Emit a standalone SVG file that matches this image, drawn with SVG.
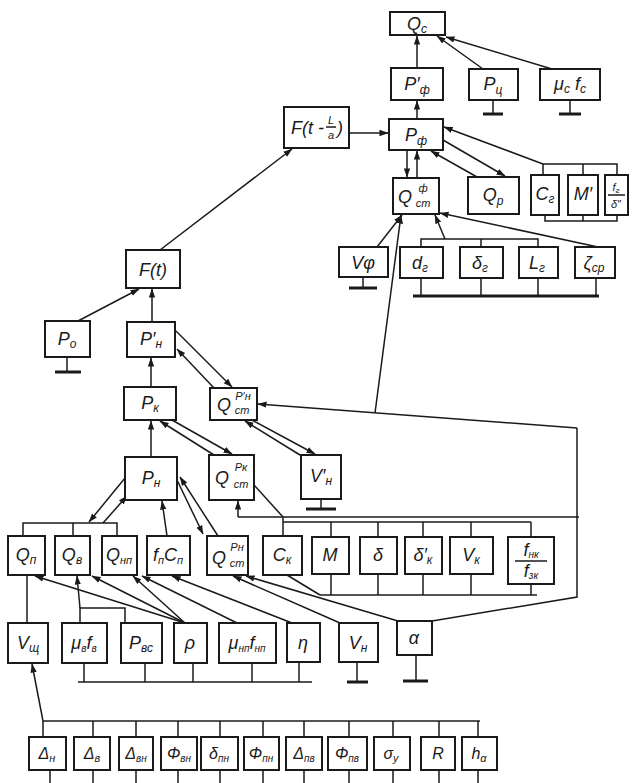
<svg xmlns="http://www.w3.org/2000/svg" width="633" height="783" viewBox="0 0 633 783">
<style>
.b{fill:#fff;stroke:#1a1a1a;stroke-width:2}
.l{fill:none;stroke:#1a1a1a;stroke-width:1.5}
.g{fill:none;stroke:#1a1a1a;stroke-width:3}
.t{font-family:"Liberation Sans","DejaVu Sans",sans-serif;font-style:italic;font-size:18px;fill:#1a1a1a;text-anchor:middle}
.st{font-family:"Liberation Sans","DejaVu Sans",sans-serif;font-style:italic;font-size:11px;fill:#1a1a1a;text-anchor:middle}
.bt{font-size:16px}
</style>
<defs>
<marker id="a" viewBox="0 0 10 10" refX="9.5" refY="5" markerWidth="9" markerHeight="9" orient="auto" markerUnits="userSpaceOnUse"><path d="M0,1.5 L10,5 L0,8.5 z" fill="#1a1a1a"/></marker>
</defs>
<rect width="633" height="783" fill="#fff"/>

<g id="connectors">
<line class="l" x1="417" y1="68" x2="417" y2="36" marker-end="url(#a)"/>
<line class="l" x1="417" y1="119" x2="417" y2="101" marker-end="url(#a)"/>
<line class="l" x1="483" y1="69" x2="437" y2="36" marker-end="url(#a)"/>
<line class="l" x1="552" y1="69" x2="446" y2="37" marker-end="url(#a)"/>
<line class="l" x1="349" y1="133" x2="388" y2="133" marker-end="url(#a)"/>
<line class="l" x1="160" y1="250" x2="292" y2="149" marker-end="url(#a)"/>
<line class="l" x1="543" y1="164" x2="444" y2="127" marker-end="url(#a)"/>
<line class="l" x1="443" y1="140" x2="505" y2="176" marker-end="url(#a)"/>
<line class="l" x1="477" y1="177" x2="431" y2="151" marker-end="url(#a)"/>
<line class="l" x1="407" y1="150" x2="407" y2="177" marker-end="url(#a)"/>
<line class="l" x1="417" y1="178" x2="417" y2="151" marker-end="url(#a)"/>
<line class="l" x1="377" y1="247" x2="402" y2="215" marker-end="url(#a)"/>
<line class="l" x1="445" y1="239" x2="435" y2="215" marker-end="url(#a)"/>
<line class="l" x1="598" y1="247" x2="440" y2="213" marker-end="url(#a)"/>
<polyline class="l" points="543,175 543,164 617,164 617,175"/>
<line class="l" x1="583" y1="164" x2="583" y2="175"/>
<polyline class="l" points="545,215 545,221 617,221 617,215"/>
<line class="l" x1="583" y1="215" x2="583" y2="221"/>
<polyline class="l" points="421,247 421,239 538,239 538,247"/>
<line class="l" x1="481" y1="239" x2="481" y2="247"/>
<line class="g" x1="413" y1="296" x2="599" y2="296"/>
<line class="l" x1="421" y1="278" x2="421" y2="296"/>
<line class="l" x1="481" y1="278" x2="481" y2="296"/>
<line class="l" x1="538" y1="278" x2="538" y2="296"/>
<line class="l" x1="596" y1="278" x2="596" y2="296"/>
<line class="l" x1="363" y1="277" x2="363" y2="287"/>
<line class="g" x1="349" y1="288" x2="377" y2="288"/>
<line class="l" x1="493" y1="100" x2="493" y2="113"/>
<line class="g" x1="483" y1="114" x2="503" y2="114"/>
<line class="l" x1="570" y1="100" x2="570" y2="113"/>
<line class="g" x1="559" y1="114" x2="581" y2="114"/>

<line class="l" x1="375" y1="413" x2="401" y2="215" marker-end="url(#a)"/>
<line class="l" x1="577" y1="428" x2="258" y2="404" marker-end="url(#a)"/>
<polyline class="l" points="577,428 577,597 432,621"/>
<line class="l" x1="238" y1="517" x2="579" y2="517"/>
<line class="l" x1="238" y1="517" x2="238" y2="501" marker-end="url(#a)"/>
<line class="l" x1="254" y1="485" x2="283" y2="517"/>
<line class="l" x1="283" y1="517" x2="283" y2="536"/>
<line class="l" x1="283" y1="522" x2="531" y2="522"/>
<line class="l" x1="331" y1="522" x2="331" y2="537"/>
<line class="l" x1="378" y1="522" x2="378" y2="537"/>
<line class="l" x1="423" y1="522" x2="423" y2="537"/>
<line class="l" x1="471" y1="522" x2="471" y2="537"/>
<line class="l" x1="531" y1="522" x2="531" y2="537"/>
<line class="l" x1="320" y1="595" x2="537" y2="595"/>
<line class="l" x1="287" y1="575" x2="320" y2="595"/>
<line class="l" x1="331" y1="574" x2="331" y2="595"/>
<line class="l" x1="378" y1="574" x2="378" y2="595"/>
<line class="l" x1="423" y1="574" x2="423" y2="595"/>
<line class="l" x1="471" y1="574" x2="471" y2="595"/>
<line class="l" x1="531" y1="584" x2="531" y2="595"/>

<line class="l" x1="78" y1="321" x2="139" y2="289" marker-end="url(#a)"/>
<line class="l" x1="152" y1="322" x2="152" y2="289" marker-end="url(#a)"/>
<line class="l" x1="67" y1="357" x2="67" y2="371"/>
<line class="g" x1="55" y1="372" x2="81" y2="372"/>
<line class="l" x1="151" y1="387" x2="151" y2="358" marker-end="url(#a)"/>
<line class="l" x1="151" y1="457" x2="151" y2="421" marker-end="url(#a)"/>
<line class="l" x1="176" y1="331" x2="232" y2="387" marker-end="url(#a)"/>
<line class="l" x1="214" y1="388" x2="177" y2="349" marker-end="url(#a)"/>
<line class="l" x1="172" y1="420" x2="232" y2="454" marker-end="url(#a)"/>
<line class="l" x1="214" y1="455" x2="160" y2="421" marker-end="url(#a)"/>
<line class="l" x1="252" y1="420" x2="315" y2="454" marker-end="url(#a)"/>
<line class="l" x1="300" y1="455" x2="245" y2="421" marker-end="url(#a)"/>
<line class="l" x1="321" y1="499" x2="321" y2="508"/>
<line class="g" x1="306" y1="509" x2="336" y2="509"/>

<line class="l" x1="125" y1="478" x2="89" y2="522" marker-end="url(#a)"/>
<line class="l" x1="103" y1="523" x2="127" y2="496" marker-end="url(#a)"/>
<polyline class="l" points="23,536 23,523 117,523 117,536"/>
<line class="l" x1="73" y1="523" x2="73" y2="536"/>
<line class="l" x1="167" y1="536" x2="162" y2="501" marker-end="url(#a)"/>
<line class="l" x1="177" y1="480" x2="203" y2="534" marker-end="url(#a)"/>
<line class="l" x1="218" y1="536" x2="180" y2="477" marker-end="url(#a)"/>

<line class="l" x1="27" y1="575" x2="27" y2="623"/>
<line class="l" x1="43" y1="721" x2="32" y2="664" marker-end="url(#a)"/>
<polyline class="l" points="80,623 80,608 125,608 125,623"/>
<line class="l" x1="80" y1="608" x2="77" y2="576" marker-end="url(#a)"/>
<line class="l" x1="185" y1="623" x2="35" y2="576" marker-end="url(#a)"/>
<line class="l" x1="185" y1="623" x2="92" y2="576" marker-end="url(#a)"/>
<line class="l" x1="185" y1="623" x2="133" y2="576" marker-end="url(#a)"/>
<line class="l" x1="237" y1="623" x2="142" y2="576" marker-end="url(#a)"/>
<line class="l" x1="292" y1="623" x2="172" y2="576" marker-end="url(#a)"/>
<line class="l" x1="340" y1="623" x2="233" y2="576" marker-end="url(#a)"/>
<line class="l" x1="398" y1="621" x2="246" y2="576" marker-end="url(#a)"/>
<line class="l" x1="78" y1="682" x2="312" y2="682"/>
<line class="l" x1="84" y1="663" x2="84" y2="682"/>
<line class="l" x1="145" y1="663" x2="145" y2="682"/>
<line class="l" x1="193" y1="663" x2="193" y2="682"/>
<line class="l" x1="252" y1="663" x2="252" y2="682"/>
<line class="l" x1="299" y1="662" x2="299" y2="682"/>
<line class="l" x1="357" y1="662" x2="357" y2="681"/>
<line class="g" x1="347" y1="682" x2="368" y2="682"/>
<line class="l" x1="416" y1="655" x2="416" y2="680"/>
<line class="g" x1="403" y1="681" x2="428" y2="681"/>

<line class="l" x1="43" y1="721" x2="480" y2="721"/>
<g class="l">
<path d="M43,721V737M93,721V737M136,721V737M178,721V737M220,721V737M263,721V737M304,721V737M349,721V737M393,721V737M439,721V737M478,721V737"/>
<path d="M50,770V783M93,770V783M136,770V783M178,770V783M220,770V783M263,770V783M304,770V783M349,770V783M393,770V783M439,770V783M478,770V783"/>
</g>
</g>

<g id="Qc"><rect class="b" x="390" y="12" width="55" height="23"/><text class="t" x="417" y="30">Q<tspan font-size="12" dy="3">c</tspan></text></g>
<g id="Pf1"><rect class="b" x="391" y="68" width="52" height="32"/><text class="t" x="417" y="90">P′<tspan font-size="12" dy="4">ф</tspan></text></g>
<g id="Pc"><rect class="b" x="469" y="69" width="49" height="31"/><text class="t" x="493" y="90">P<tspan font-size="12" dy="4">ц</tspan></text></g>
<g id="Mcfc"><rect class="b" x="540" y="69" width="60" height="31"/><text class="t" x="570" y="90">μ<tspan font-size="12" dy="3">c</tspan><tspan dy="-3"> f</tspan><tspan font-size="12" dy="3">c</tspan></text></g>
<g id="Ftla"><rect class="b" x="284" y="107" width="65" height="41"/><text class="t" x="324" y="134" style="text-anchor:end">F(t -</text><text class="st" x="331" y="124">L</text><line class="l" x1="326" y1="127" x2="336" y2="127" stroke-width="1"/><text class="st" x="331" y="139" font-size="12">a</text><text class="t" x="337" y="134" style="text-anchor:start">)</text></g>
<g id="Pf"><rect class="b" x="389" y="119" width="54" height="31"/><text class="t" x="416" y="141">P<tspan font-size="12" dy="4">ф</tspan></text></g>
<g id="Qstf"><rect class="b" x="393" y="178" width="46" height="36"/><text class="t" x="405" y="203">Q</text><text class="st" x="423" y="192">ф</text><text class="st" x="423" y="207">ст</text></g>
<g id="Qp"><rect class="b" x="468" y="177" width="51" height="37"/><text class="t" x="493" y="201">Q<tspan font-size="12" dy="4">p</tspan></text></g>
<g id="Cg"><rect class="b" x="531" y="175" width="28" height="40"/><text class="t" x="545" y="200">C<tspan font-size="12" dy="3">г</tspan></text></g>
<g id="M1"><rect class="b" x="568" y="175" width="30" height="40"/><text class="t" x="583" y="200">M′</text></g>
<g id="fgd"><rect class="b" x="605" y="175" width="23" height="40"/><text class="st" x="616" y="191">f<tspan font-size="8" dy="2">г</tspan></text><line class="l" x1="608" y1="195" x2="625" y2="195" stroke-width="1"/><text class="st" x="616" y="208">δ″</text></g>
<g id="Vf"><rect class="b" x="339" y="247" width="49" height="30"/><text class="t" x="363" y="269">Vφ</text></g>
<g id="dg"><rect class="b" x="400" y="247" width="43" height="31"/><text class="t" x="420" y="269">d<tspan font-size="12" dy="3">г</tspan></text></g>
<g id="sg"><rect class="b" x="460" y="247" width="43" height="31"/><text class="t" x="480" y="269">δ<tspan font-size="12" dy="3">г</tspan></text></g>
<g id="Lg"><rect class="b" x="519" y="247" width="39" height="31"/><text class="t" x="537" y="269">L<tspan font-size="12" dy="3">г</tspan></text></g>
<g id="zsr"><rect class="b" x="575" y="247" width="40" height="31"/><text class="t" x="594" y="269">ζ<tspan font-size="12" dy="3">ср</tspan></text></g>

<g id="Ft"><rect class="b" x="126" y="250" width="54" height="38"/><text class="t" x="153" y="276">F(t)</text></g>
<g id="P0"><rect class="b" x="45" y="321" width="45" height="36"/><text class="t" x="67" y="345">P<tspan font-size="12" dy="3">o</tspan></text></g>
<g id="Pn1"><rect class="b" x="127" y="322" width="48" height="35"/><text class="t" x="151" y="345">P′<tspan font-size="12" dy="3">н</tspan></text></g>
<g id="Pk"><rect class="b" x="124" y="387" width="52" height="33"/><text class="t" x="150" y="409">P<tspan font-size="12" dy="3">к</tspan></text></g>
<g id="QstPn1"><rect class="b" x="210" y="388" width="47" height="32"/><text class="t" x="224" y="411">Q</text><text class="st" x="243" y="400">P′н</text><text class="st" x="242" y="414">ст</text></g>
<g id="Pn"><rect class="b" x="125" y="457" width="52" height="43"/><text class="t" x="151" y="484">P<tspan font-size="12" dy="3">н</tspan></text></g>
<g id="QstPk"><rect class="b" x="209" y="455" width="45" height="45"/><text class="t" x="222" y="484">Q</text><text class="st" x="241" y="471">Pк</text><text class="st" x="241" y="488">ст</text></g>
<g id="Vn1"><rect class="b" x="301" y="455" width="40" height="44"/><text class="t" x="321" y="482">V′<tspan font-size="12" dy="3">н</tspan></text></g>

<g id="Qp2"><rect class="b" x="8" y="536" width="37" height="39"/><text class="t" x="26" y="561">Q<tspan font-size="12" dy="3">п</tspan></text></g>
<g id="Qv"><rect class="b" x="55" y="536" width="35" height="39"/><text class="t" x="72" y="561">Q<tspan font-size="12" dy="3">в</tspan></text></g>
<g id="Qnp"><rect class="b" x="102" y="536" width="35" height="39"/><text class="t" x="119" y="561">Q<tspan font-size="11" dy="3">нп</tspan></text></g>
<g id="fpCp"><rect class="b" x="147" y="536" width="43" height="39"/><text class="t" x="168" y="561">f<tspan font-size="11" dy="3">п</tspan><tspan dy="-3">C</tspan><tspan font-size="11" dy="3">п</tspan></text></g>
<g id="QstPn"><rect class="b" x="207" y="536" width="41" height="39"/><text class="t" x="219" y="564">Q</text><text class="st" x="237" y="551">Pн</text><text class="st" x="237" y="567">ст</text></g>
<g id="Ck"><rect class="b" x="263" y="536" width="39" height="39"/><text class="t" x="282" y="561">C<tspan font-size="12" dy="3">к</tspan></text></g>
<g id="M"><rect class="b" x="312" y="537" width="37" height="37"/><text class="t" x="330" y="561">M</text></g>
<g id="d"><rect class="b" x="360" y="537" width="37" height="37"/><text class="t" x="378" y="561">δ</text></g>
<g id="dk"><rect class="b" x="405" y="537" width="37" height="37"/><text class="t" x="423" y="561">δ′<tspan font-size="12" dy="3">к</tspan></text></g>
<g id="Vk"><rect class="b" x="450" y="537" width="43" height="37"/><text class="t" x="471" y="561">V<tspan font-size="12" dy="3">к</tspan></text></g>
<g id="fnk"><rect class="b" x="508" y="537" width="46" height="47"/><text class="t" x="531" y="556" font-size="15">f<tspan font-size="10" dy="2">нк</tspan></text><line class="l" x1="515" y1="561" x2="547" y2="561"/><text class="t" x="531" y="577" font-size="15">f<tspan font-size="10" dy="2">зк</tspan></text></g>

<g id="Vsch"><rect class="b" x="8" y="623" width="40" height="40"/><text class="t" x="28" y="649">V<tspan font-size="12" dy="3">щ</tspan></text></g>
<g id="mvfv"><rect class="b" x="62" y="623" width="45" height="40"/><text class="t" x="84" y="649" font-size="16">μ<tspan font-size="10" dy="3">в</tspan><tspan dy="-3">f</tspan><tspan font-size="10" dy="3">в</tspan></text></g>
<g id="Pvs"><rect class="b" x="121" y="623" width="41" height="40"/><text class="t" x="141" y="649">P<tspan font-size="12" dy="3">вс</tspan></text></g>
<g id="rho"><rect class="b" x="174" y="623" width="33" height="40"/><text class="t" x="190" y="649">ρ</text></g>
<g id="mnpfnp"><rect class="b" x="219" y="623" width="57" height="40"/><text class="t" x="247" y="649" font-size="16">μ<tspan font-size="10" dy="3">нп</tspan><tspan dy="-3">f</tspan><tspan font-size="10" dy="3">нп</tspan></text></g>
<g id="eta"><rect class="b" x="287" y="623" width="33" height="39"/><text class="t" x="303" y="649">η</text></g>
<g id="Vn"><rect class="b" x="339" y="623" width="39" height="39"/><text class="t" x="358" y="649">V<tspan font-size="12" dy="3">н</tspan></text></g>
<g id="alpha"><rect class="b" x="397" y="621" width="35" height="34"/><text class="t" x="414" y="644">α</text></g>

<g id="Dn"><rect class="b" x="29" y="737" width="37" height="33"/><text class="t bt" x="47" y="759">Δ<tspan font-size="11" dy="3">н</tspan></text></g>
<g id="Dv"><rect class="b" x="74" y="737" width="36" height="33"/><text class="t bt" x="92" y="759">Δ<tspan font-size="11" dy="3">в</tspan></text></g>
<g id="Dvn"><rect class="b" x="119" y="737" width="34" height="33"/><text class="t bt" x="136" y="759">Δ<tspan font-size="10" dy="3">вн</tspan></text></g>
<g id="Fvn"><rect class="b" x="161" y="737" width="36" height="33"/><text class="t bt" x="179" y="759">Φ<tspan font-size="10" dy="3">вн</tspan></text></g>
<g id="dpn"><rect class="b" x="201" y="737" width="37" height="33"/><text class="t bt" x="219" y="759">δ<tspan font-size="10" dy="3">пн</tspan></text></g>
<g id="Fpn"><rect class="b" x="244" y="737" width="35" height="33"/><text class="t bt" x="261" y="759">Φ<tspan font-size="10" dy="3">пн</tspan></text></g>
<g id="Dpv"><rect class="b" x="286" y="737" width="36" height="33"/><text class="t bt" x="304" y="759">Δ<tspan font-size="10" dy="3">пв</tspan></text></g>
<g id="Fpv"><rect class="b" x="328" y="737" width="39" height="33"/><text class="t bt" x="347" y="759">Φ<tspan font-size="10" dy="3">пв</tspan></text></g>
<g id="su"><rect class="b" x="374" y="737" width="36" height="33"/><text class="t bt" x="391" y="759">σ<tspan font-size="11" dy="3">у</tspan></text></g>
<g id="R"><rect class="b" x="421" y="737" width="34" height="33"/><text class="t bt" x="438" y="759">R</text></g>
<g id="ha"><rect class="b" x="462" y="737" width="35" height="33"/><text class="t bt" x="479" y="759">h<tspan font-size="11" dy="3">α</tspan></text></g>
</svg>
